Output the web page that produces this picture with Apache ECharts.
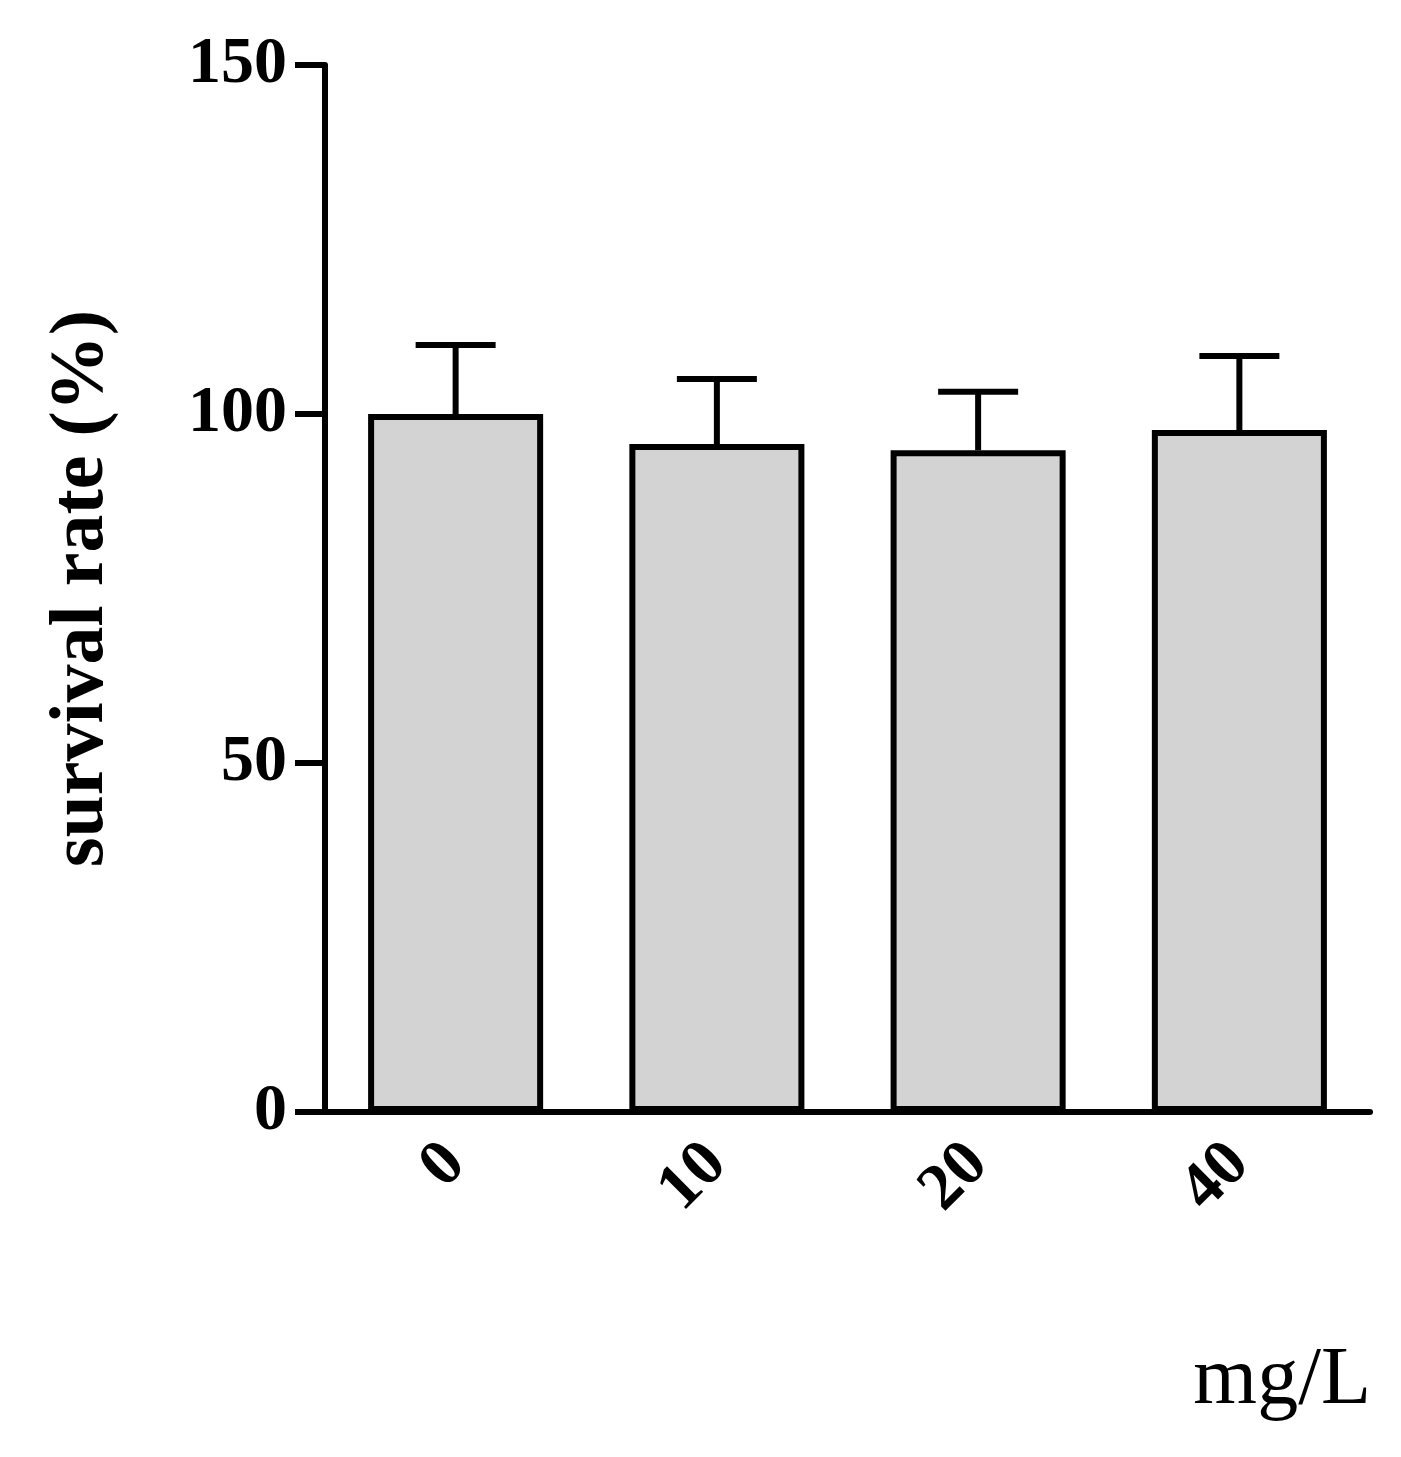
<!DOCTYPE html>
<html><head><meta charset="utf-8">
<script src="https://cdn.jsdelivr.net/npm/echarts@6/dist/echarts.min.js"></script>
<style>html,body{margin:0;background:#fff}#c{width:1401px;height:1457px}</style>
</head><body><div id="c"></div>
<script>
const categories = ['0','10','20','40'];
const means = [100, 95.7, 94.8, 97.7];
const errors = [9.9, 9.3, 8.4, 10.6];
const yTicks = [0, 50, 100, 150];

const font = '"Liberation Serif","Times New Roman",serif';
const chart = echarts.init(document.getElementById('c'));
chart.setOption({
  animation: false,
  grid: {left: 325, right: 31, top: 65, bottom: 345},
  xAxis: {
    type: 'category', data: categories,
    axisLine: {lineStyle: {color: '#000', width: 6}},
    axisTick: {alignWithLabel: true, length: 30, lineStyle: {color: '#000', width: 6}},
    axisLabel: {rotate: 45, margin: 42, color: '#000', fontFamily: font, fontWeight: 'bold', fontSize: 66}
  },
  yAxis: {
    type: 'value', min: 0, max: 150, interval: 50,
    name: 'survival rate (%)', nameLocation: 'middle', nameGap: 205, nameRotate: 90,
    nameTextStyle: {color: '#000', fontFamily: font, fontWeight: 'bold', fontSize: 76},
    axisLine: {show: true, lineStyle: {color: '#000', width: 6}},
    axisTick: {show: true, length: 30, lineStyle: {color: '#000', width: 6}},
    splitLine: {show: false},
    axisLabel: {margin: 38, color: '#000', fontFamily: font, fontWeight: 'bold', fontSize: 66,
      formatter: v => yTicks.includes(v) ? String(v) : ''}
  },
  series: [{
    type: 'bar', data: means, barWidth: '67%',
    itemStyle: {color: '#d3d3d3', borderColor: '#000', borderWidth: 6}, z: 3
  }, {
    type: 'custom', z: 2,
    data: means.map((m, i) => [i, m, m + errors[i]]),
    renderItem: (params, api) => {
      const lo = api.coord([api.value(0), api.value(1)]);
      const hi = api.coord([api.value(0), api.value(2)]);
      const hw = 40;
      return {type: 'group', children: [
        {type: 'line', shape: {x1: lo[0], y1: lo[1], x2: hi[0], y2: hi[1]}, style: {stroke: '#000', lineWidth: 6}},
        {type: 'line', shape: {x1: hi[0]-hw, y1: hi[1], x2: hi[0]+hw, y2: hi[1]}, style: {stroke: '#000', lineWidth: 6}}
      ]};
    }
  }],
  graphic: [{type: 'text', right: 30, top: 1340,
    style: {text: 'mg/L', font: '82px ' + font, fill: '#000'}}]
});
</script></body></html>
